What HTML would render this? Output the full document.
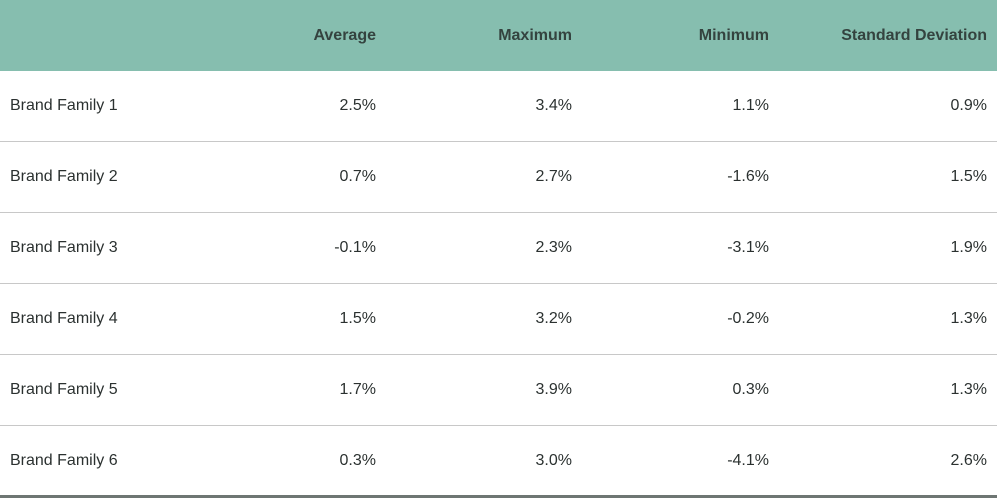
<!DOCTYPE html>
<html><head><meta charset="utf-8"><style>
body{margin:0;width:1000px;height:501px;background:#fff;font-family:"Liberation Sans",sans-serif;overflow:hidden}
table{position:absolute;left:0;top:0;width:997px;border-collapse:collapse;table-layout:fixed}
th{background:#86beaf;height:71px;color:#34433f;font-weight:bold;font-size:16px;text-align:right;padding:0;}
td{height:70px;border-bottom:1px solid #c8c8c8;color:#2b3130;font-size:16px;text-align:right;padding:0}
tr:last-child td{border-bottom:3px solid #6e7673;height:69px}
td.n{text-align:left;padding-left:10px}
col.c0{width:180px} col.c1{width:196px} col.c2{width:196px} col.c3{width:197px} col.c4{width:228px}
th:last-child,td:last-child{padding-right:10px}
</style></head><body>
<table>
<colgroup><col class="c0"><col class="c1"><col class="c2"><col class="c3"><col class="c4"></colgroup>
<thead><tr>
<th></th>
<th>Average</th>
<th>Maximum</th>
<th>Minimum</th>
<th>Standard Deviation</th>
</tr></thead>
<tbody>
<tr><td class="n">Brand Family 1</td><td>2.5%</td><td>3.4%</td><td>1.1%</td><td>0.9%</td></tr>
<tr><td class="n">Brand Family 2</td><td>0.7%</td><td>2.7%</td><td>-1.6%</td><td>1.5%</td></tr>
<tr><td class="n">Brand Family 3</td><td>-0.1%</td><td>2.3%</td><td>-3.1%</td><td>1.9%</td></tr>
<tr><td class="n">Brand Family 4</td><td>1.5%</td><td>3.2%</td><td>-0.2%</td><td>1.3%</td></tr>
<tr><td class="n">Brand Family 5</td><td>1.7%</td><td>3.9%</td><td>0.3%</td><td>1.3%</td></tr>
<tr><td class="n">Brand Family 6</td><td>0.3%</td><td>3.0%</td><td>-4.1%</td><td>2.6%</td></tr>
</tbody></table>
</body></html>
